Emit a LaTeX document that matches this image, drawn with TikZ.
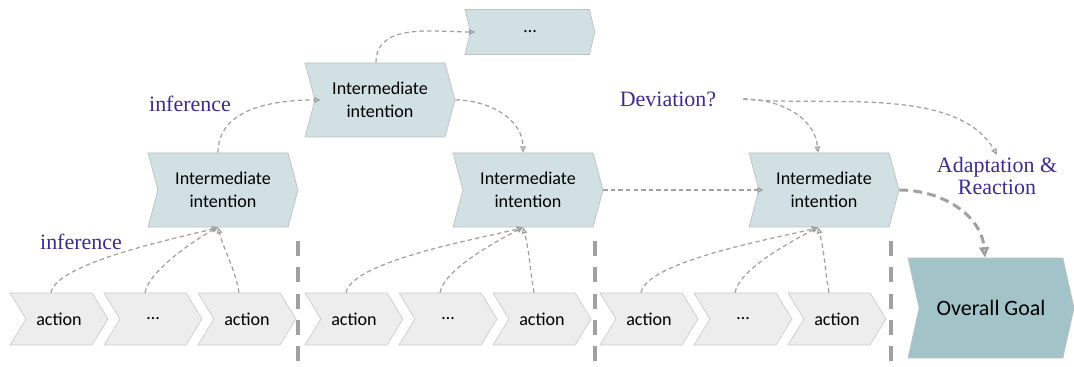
\documentclass[tikz,border=0pt]{standalone}
\usepackage{fontspec}
\setmainfont{Liberation Serif}
\newfontfamily\boxfont{Carlito}
\usepackage{tikz}
\usetikzlibrary{shapes.symbols,arrows.meta}
\definecolor{IntentFill}{RGB}{208,224,227}
\definecolor{GoalFill}{RGB}{162,196,201}
\definecolor{ActionFill}{RGB}{237,237,237}
\definecolor{EdgeGray}{RGB}{160,160,160}
\definecolor{LabelBlue}{RGB}{60,45,140}

\begin{document}
\begin{tikzpicture}[x=0.02cm, y=0.02cm,
        % Chevron boxes
        actnode/.style={signal, signal from=west, signal to=east, signal pointer angle=117, draw=black!20, fill=ActionFill, font=\boxfont\fontsize{10.3}{13}\selectfont, minimum width=1.96cm, minimum height=1.04cm, inner sep=0pt},
        intnode/.style={signal, signal from=west, signal to=east, signal pointer angle=150, draw=black!25, fill=IntentFill, font=\boxfont\fontsize{10.3}{13}\selectfont, align=center, minimum width=3cm, minimum height=1.48cm, inner sep=0pt},
        dotsnode/.style={intnode, signal pointer angle=152, minimum width=2.6cm, minimum height=0.9cm},
        goalnode/.style={intnode, signal pointer angle=155, fill=GoalFill, font=\boxfont\fontsize{12.5}{15}\selectfont, minimum width=3.32cm, minimum height=2cm},
        % Labels
        lbl/.style={text=LabelBlue, font=\fontsize{12.5}{13}\selectfont, align=center, inner sep=1pt},
        % Edges
        infer/.style={draw=EdgeGray, line width=0.7pt, dash pattern=on 2.5pt off 1.8pt, -{Triangle[open, length=3.5pt, width=3.2pt]}},
        react/.style={draw=EdgeGray, line width=1.7pt, dash pattern=on 5pt off 3pt, -{Triangle[open, length=6pt, width=5.5pt]}},
        sep/.style={draw=EdgeGray, line width=2.3pt, dash pattern=on 8.5pt off 6.5pt}
    ]
    \useasboundingbox (0,0) rectangle (1074,367);

    % --- ACTIONS ---
    \node[actnode] (a11) at (59,48) {action};
    \node[actnode] (a12) at (153,48) {\dots};
    \node[actnode] (a13) at (247,48) {action};
    \node[actnode] (a21) at (354,48) {action};
    \node[actnode] (a22) at (448,48) {\dots};
    \node[actnode] (a23) at (542,48) {action};
    \node[actnode] (a31) at (649,48) {action};
    \node[actnode] (a32) at (743,48) {\dots};
    \node[actnode] (a33) at (837,48) {action};

    % --- INTENTIONS ---
    \node[intnode] (in1) at (223,177) {Intermediate\\intention};
    \node[intnode] (in2) at (528,177) {Intermediate\\intention};
    \node[intnode] (in3) at (824,177) {Intermediate\\intention};
    \node[intnode] (in4) at (380,267) {Intermediate\\intention};
    \node[dotsnode] (dots) at (530,335) {\dots};
    \node[goalnode] (goal) at (991,59) {Overall Goal};

    % --- SEPARATORS ---
    \draw[sep] (298,126) -- (298,0);
    \draw[sep] (595,126) -- (595,0);
    \draw[sep] (891,126) -- (891,0);

    % --- LABELS ---
    \node[lbl] (inf1) at (81,125) {inference};
    \node[lbl] (inf2) at (190,263) {inference};
    \node[lbl] (dev) at (668,268) {Deviation?};
    \node[lbl] (adapt) at (997,191) {Adaptation \&\\Reaction};

    % --- EDGES ---
    % actions up to intentions
    \draw[infer] ([xshift=-0.16cm]a11.north) to[out=80, in=196, looseness=0.45] ([xshift=-0.1cm]in1.south);
    \draw[infer] ([xshift=-0.16cm]a12.north) to[out=80, in=208, looseness=0.6] ([xshift=-0.1cm]in1.south);
    \draw[infer] ([xshift=-0.16cm]a13.north) to[out=100, in=-75] ([xshift=-0.1cm]in1.south);
    \draw[infer] ([xshift=-0.16cm]a21.north) to[out=80, in=196, looseness=0.45] ([xshift=-0.1cm]in2.south);
    \draw[infer] ([xshift=-0.16cm]a22.north) to[out=80, in=208, looseness=0.6] ([xshift=-0.1cm]in2.south);
    \draw[infer] ([xshift=-0.16cm]a23.north) to[out=100, in=-75] ([xshift=-0.1cm]in2.south);
    \draw[infer] ([xshift=-0.16cm]a31.north) to[out=80, in=196, looseness=0.45] ([xshift=-0.12cm]in3.south);
    \draw[infer] ([xshift=-0.16cm]a32.north) to[out=80, in=208, looseness=0.6] ([xshift=-0.12cm]in3.south);
    \draw[infer] ([xshift=-0.16cm]a33.north) to[out=100, in=-75] ([xshift=-0.12cm]in3.south);

    % between intentions
    \draw[infer] ([xshift=-0.1cm]in1.north) to[out=90, in=180] ([xshift=0.12cm]in4.west);
    \draw[infer] ([xshift=-0.08cm]in4.north) to[out=90, in=180] ([xshift=0.1cm]dots.west);
    \draw[infer] (in4.east) to[out=0, in=90] ([xshift=-0.1cm]in2.north);
    \draw[infer] (in2.east) -- ([xshift=0.1cm]in3.west);

    % deviation check
    \draw[infer] ([xshift=0.5cm]dev.east) to[out=0, in=95] ([xshift=-0.12cm]in3.north);
    \draw[infer] ([xshift=0.5cm]dev.east) to[out=-6, in=120, looseness=0.8] (adapt.north);
    \draw[react] (in3.east) to[out=0, in=95] ([xshift=-0.12cm]goal.north);

\end{tikzpicture}
\end{document}
